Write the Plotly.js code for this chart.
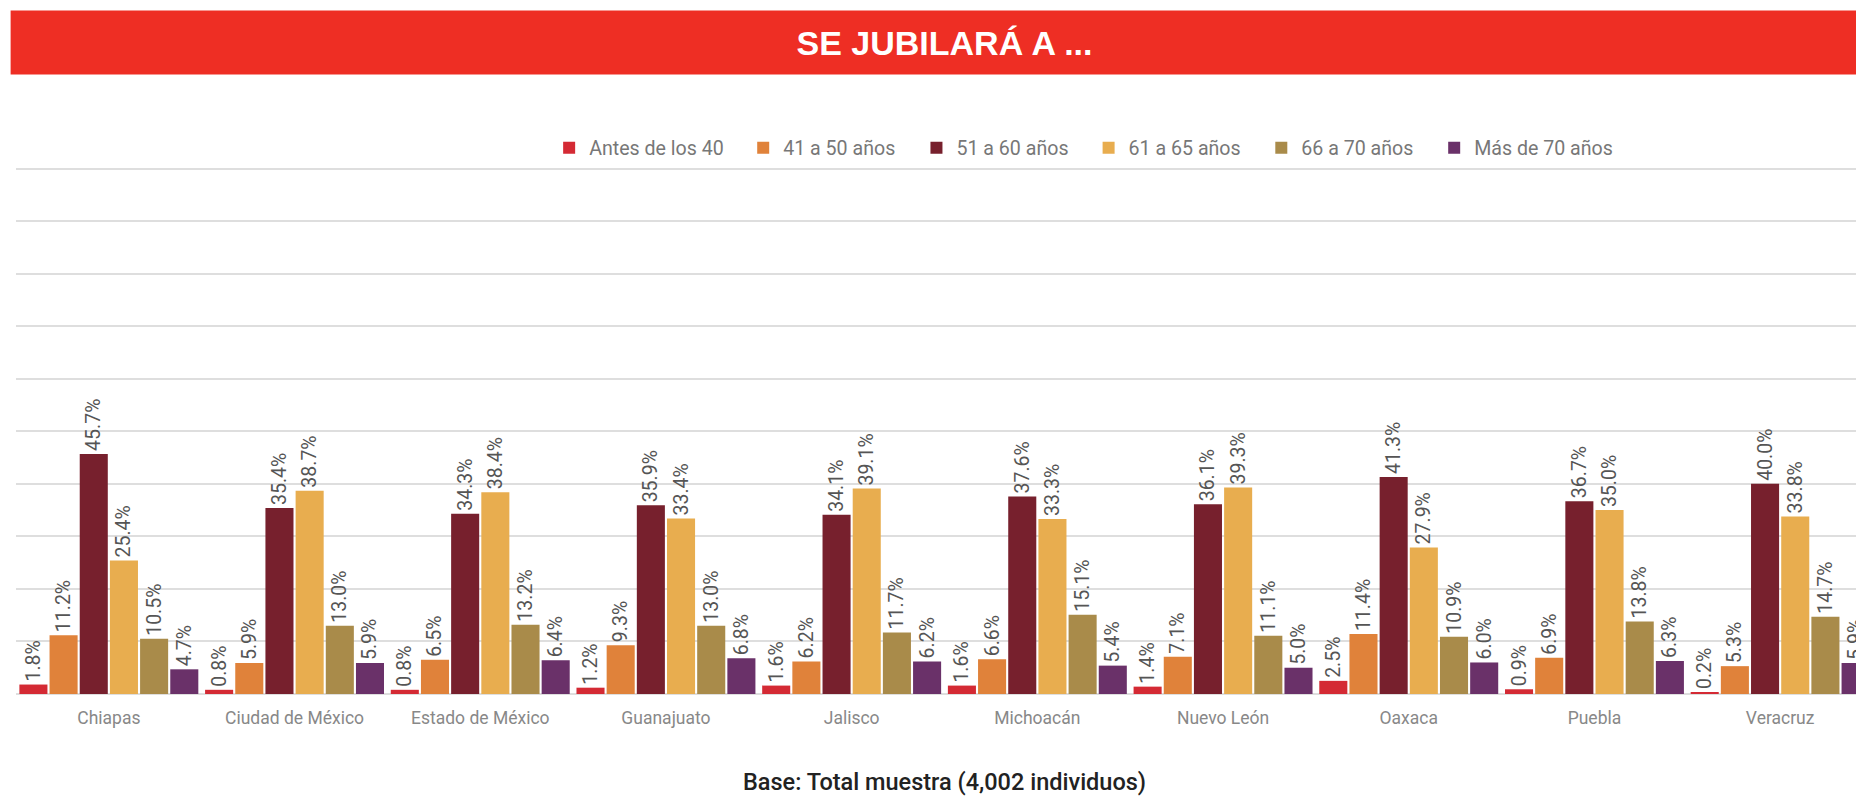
<!DOCTYPE html>
<html>
<head>
<meta charset="utf-8">
<script src="https://cdn.plot.ly/plotly-3.0.1.min.js"></script>
<style>
html,body{margin:0;padding:0;overflow:hidden;background:#fff;width:1856px;height:798px;}
#chart{width:1880px;height:798px;}
</style>
</head>
<body>
<div id="chart"></div>
<script>
const categories = ["Chiapas","Ciudad de México","Estado de México","Guanajuato","Jalisco","Michoacán","Nuevo León","Oaxaca","Puebla","Veracruz"];
const seriesNames = ["Antes de los 40","41 a 50 años","51 a 60 años","61 a 65 años","66 a 70 años","Más de 70 años"];
const antes40 = [1.8,0.8,0.8,1.2,1.6,1.6,1.4,2.5,0.9,0.2];
const a41_50 = [11.2,5.9,6.5,9.3,6.2,6.6,7.1,11.4,6.9,5.3];
const a51_60 = [45.7,35.4,34.3,35.9,34.1,37.6,36.1,41.3,36.7,40.0];
const a61_65 = [25.4,38.7,38.4,33.4,39.1,33.3,39.3,27.9,35.0,33.8];
const a66_70 = [10.5,13.0,13.2,13.0,11.7,15.1,11.1,10.9,13.8,14.7];
const mas70 = [4.7,5.9,6.4,6.8,6.2,5.4,5.0,6.0,6.3,5.9];
const colors = ["#d42a34","#e0823a","#77202d","#e8ad4f","#a98b4a","#6a3169"];
const legendX = [0.2871,0.3916,0.4849,0.5776,0.6706,0.7637];

const values = [antes40,a41_50,a51_60,a61_65,a66_70,mas70];
const FONT = "Roboto, 'Liberation Sans', sans-serif";
const legendIds = ["legend","legend2","legend3","legend4","legend5","legend6"];

const traces = values.map((v,i)=>({
  type:"bar",
  name: seriesNames[i],
  legend: legendIds[i],
  showlegend: true,
  x: categories,
  y: v,
  marker:{color: colors[i]},
  texttemplate:"%{y:.1f}%",
  textposition:"outside",
  textangle:-90,
  constraintext:"none",
  cliponaxis:false,
  textfont:{size:19.5,color:"#555555",family:FONT},
  hoverinfo:"x+y+name"
}));

const plotTop = 167, plotBottom = 694;
const ph = plotBottom - plotTop;
const py = px => (plotBottom - px) / ph;

const layout = {
  width:1880, height:798,
  showlegend: true,
  margin:{l:16,r:7,t:plotTop,b:798-plotBottom},
  paper_bgcolor:"#ffffff", plot_bgcolor:"#ffffff",
  barmode:"group", bargap:0.025, bargroupgap:0.07,
  font:{family:FONT},
  title:{text:"<b>SE JUBILARÁ A ...</b>", x:0.5, xref:"paper", y:1-43/798, yanchor:"middle",
         font:{size:34,color:"#ffffff",family:"'Liberation Sans', Arial, sans-serif"}},
  shapes:[{type:"rect", xref:"paper", yref:"paper", x0:-0.0029, x1:1.02, y0:py(74.6), y1:py(10.6),
           fillcolor:"#ee2e24", line:{width:0}, layer:"below"}],
  xaxis:{type:"category", showgrid:false, showline:false, ticks:"", zeroline:false, ticklabelstandoff:11,
         tickfont:{size:17.5,color:"#888888",family:FONT}},
  yaxis:{range:[0,100.3], dtick:10, showticklabels:false, showgrid:true, gridcolor:"#dedede", gridwidth:2,
         zeroline:true, zerolinecolor:"#dedede", zerolinewidth:2, fixedrange:true},
  annotations:[{text:"Base: Total muestra (4,002 individuos)", xref:"paper", yref:"paper", x:0.5, y:py(782),
                xanchor:"center", yanchor:"middle", showarrow:false,
                font:{size:23.5,color:"#222222",family:FONT, weight:500}}]
};
legendIds.forEach((id,i)=>{
  layout[id] = {visible:true, orientation:"h", x:legendX[i], xanchor:"left", y:py(148), yanchor:"middle",
                font:{size:19.6,color:"#777777",family:FONT}, bgcolor:"rgba(0,0,0,0)"};
});

Plotly.newPlot("chart", traces, layout, {displayModeBar:false});
</script>
</body>
</html>
